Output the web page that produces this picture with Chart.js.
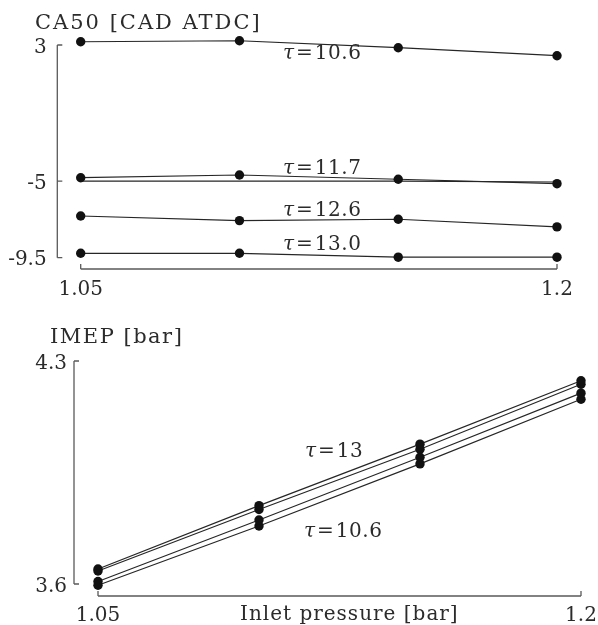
<!DOCTYPE html>
<html><head><meta charset="utf-8">
<script src="https://cdn.jsdelivr.net/npm/chart.js@4.4.1/dist/chart.umd.min.js"></script>
<style>
html,body{margin:0;padding:0;background:#fff;}
#wrap{position:relative;width:598px;height:625px;overflow:hidden;}
canvas{position:absolute;left:0;}
#c1{top:0;width:598px;height:300px;}
#c2{top:300px;width:598px;height:325px;}
</style></head><body>
<div id="wrap"><canvas id="c1" width="598" height="300"></canvas><canvas id="c2" width="598" height="325"></canvas></div>
<script>
// ---- data ----
const pressures = [1.05, 1.10, 1.15, 1.20];
const xTickValues = [1.05, 1.2];
const xTickLabels = ['1.05', '1.2'];

// CA50 [CAD ATDC]
const ca50Tau106 = [3.19, 3.25, 2.84, 2.37];
const ca50Tau117 = [-4.80, -4.64, -4.89, -5.15];
const ca50Ref    = [-5.0, -5.0, -5.0, -5.05];
const ca50Tau126 = [-7.05, -7.32, -7.24, -7.69];
const ca50Tau130 = [-9.24, -9.24, -9.47, -9.47];
const ca50TickValues = [3, -5, -9.5];
const ca50TickLabels = ['3', '-5', '-9.5'];

// IMEP [bar]
const imepTau130 = [3.647, 3.846, 4.039, 4.238];
const imepTau126 = [3.641, 3.834, 4.023, 4.227];
const imepTau117 = [3.608, 3.801, 3.998, 4.199];
const imepTau106 = [3.596, 3.782, 3.977, 4.180];
const imepTickValues = [4.3, 3.6];
const imepTickLabels = ['4.3', '3.6'];

// ---- styling / layout ----
const FONT = "'DejaVu Serif', 'Liberation Serif', serif";
const TXT = '#2b2b2b';
const AX = '#5a5a5a';

function pts(vals){ return pressures.map((p,i)=>({x:p, y:vals[i]})); }
function ds(label, vals, showPts){
  return {label, data: pts(vals), borderColor:'#262626', borderWidth:1.2,
    pointRadius: showPts?4.7:0, pointBackgroundColor:'#111', pointBorderWidth:0,
    pointHoverRadius: showPts?4.7:0, tension:0, clip:false, fill:false};
}

function spinesPlugin(yTicks, xTicks, yOff, xOff){
  return { id:'spines', afterDraw(chart){
    const ctx = chart.ctx, xs = chart.scales.x, ys = chart.scales.y, ca = chart.chartArea;
    const sx = ca.left - yOff, sy = ca.bottom + xOff;
    ctx.save();
    ctx.strokeStyle = AX; ctx.lineWidth = 1.3; ctx.lineCap='butt';
    ctx.beginPath();
    ctx.moveTo(sx, ys.getPixelForValue(ys.max)); ctx.lineTo(sx, ys.getPixelForValue(ys.min));
    yTicks.forEach(v=>{ const p = ys.getPixelForValue(v); ctx.moveTo(sx, p); ctx.lineTo(sx+5, p); });
    ctx.moveTo(xs.getPixelForValue(xs.min), sy); ctx.lineTo(xs.getPixelForValue(xs.max), sy);
    xTicks.forEach(v=>{ const p = xs.getPixelForValue(v); ctx.moveTo(p, sy); ctx.lineTo(p, sy-5); });
    ctx.stroke();
    ctx.restore();
  }};
}

function textPlugin(title, titlePos, titleSpacing, tauLabels, extra){
  return { id:'texts', afterDraw(chart){
    const ctx = chart.ctx;
    ctx.save();
    ctx.fillStyle = TXT; ctx.textBaseline = 'alphabetic'; ctx.textAlign = 'left';
    ctx.font = '21px ' + FONT;
    ctx.letterSpacing = titleSpacing + 'px';
    ctx.fillText(title, titlePos[0], titlePos[1]);
    ctx.letterSpacing = '0px';
    tauLabels.forEach(l=>{
      ctx.font = 'italic 20px ' + FONT;
      ctx.fillText('τ', l.x, l.y);
      let x = l.x + ctx.measureText('τ').width + 2;
      ctx.font = '20px ' + FONT;
      ctx.fillText('=', x, l.y);
      x += ctx.measureText('=').width + 2;
      ctx.letterSpacing = '0.5px';
      ctx.fillText(l.t, x, l.y);
      ctx.letterSpacing = '0px';
    });
    if (extra){
      ctx.font = '20px ' + FONT;
      ctx.letterSpacing = '1px';
      ctx.fillText(extra.t, extra.x, extra.y);
      ctx.letterSpacing = '0px';
    }
    ctx.restore();
  }};
}

function makeOptions(yMin, yMax, yTicks, yLabels, leftW, xH, padTop, padRight, xPad, yPad){
  return {
    responsive:false, animation:false, devicePixelRatio:1,
    layout:{padding:{top:padTop, right:padRight, left:0, bottom:0}},
    plugins:{legend:{display:false}, tooltip:{enabled:false}, title:{display:false}},
    events: [],
    scales:{
      x:{type:'linear', min:1.05, max:1.2,
        afterBuildTicks: s=>{ s.ticks = xTickValues.map(v=>({value:v})); },
        afterFit: s=>{ s.height = xH; s.paddingLeft = 0; s.paddingRight = 0; },
        grid:{display:false, drawTicks:false}, border:{display:false},
        ticks:{padding:xPad, color:TXT, font:{family:FONT, size:20}, maxRotation:0,
          callback: v=>{ const i = xTickValues.findIndex(t=>Math.abs(t-v)<1e-9); return i>=0?xTickLabels[i]:''; }}},
      y:{type:'linear', min:yMin, max:yMax,
        afterBuildTicks: s=>{ s.ticks = yTicks.map(v=>({value:v})); },
        afterFit: s=>{ s.width = leftW; s.paddingTop = 0; s.paddingBottom = 0; },
        grid:{display:false, drawTicks:false}, border:{display:false},
        ticks:{padding:yPad, color:TXT, font:{family:FONT, size:20}, labelOffset:2.5,
          callback: v=>{ const i = yTicks.findIndex(t=>Math.abs(t-v)<1e-9); return i>=0?yLabels[i]:''; }}}
    }
  };
}

new Chart(document.getElementById('c1'), {
  type:'line',
  data:{ datasets:[
    ds('τ=10.6', ca50Tau106, true),
    ds('τ=11.7', ca50Tau117, true),
    ds('ref', ca50Ref, false),
    ds('τ=12.6', ca50Tau126, true),
    ds('τ=13.0', ca50Tau130, true)
  ]},
  options: makeOptions(-9.5, 3, ca50TickValues, ca50TickLabels, 80.7, 42.3, 45, 41, 20, 34),
  plugins:[spinesPlugin(ca50TickValues, xTickValues, 23.4, 11.3),
    textPlugin('CA50 [CAD ATDC]', [35, 28.5], 2, [
      {t:'10.6', x:283, y:59.3}, {t:'11.7', x:283, y:174.3},
      {t:'12.6', x:283, y:216}, {t:'13.0', x:283, y:250}
    ])]
});

new Chart(document.getElementById('c2'), {
  type:'line',
  data:{ datasets:[
    ds('τ=13.0', imepTau130, true),
    ds('τ=12.6', imepTau126, true),
    ds('τ=11.7', imepTau117, true),
    ds('τ=10.6', imepTau106, true)
  ]},
  options: makeOptions(3.6, 4.3, imepTickValues, imepTickLabels, 98, 41, 61, 17, 19.5, 31),
  plugins:[spinesPlugin(imepTickValues, xTickValues, 24, 12),
    textPlugin('IMEP [bar]', [50, 43.3], 1.5, [
      {t:'13', x:305, y:157.3}, {t:'10.6', x:304, y:236.7}
    ], {t:'Inlet pressure [bar]', x:240, y:319.5})]
});
</script>
</body></html>
